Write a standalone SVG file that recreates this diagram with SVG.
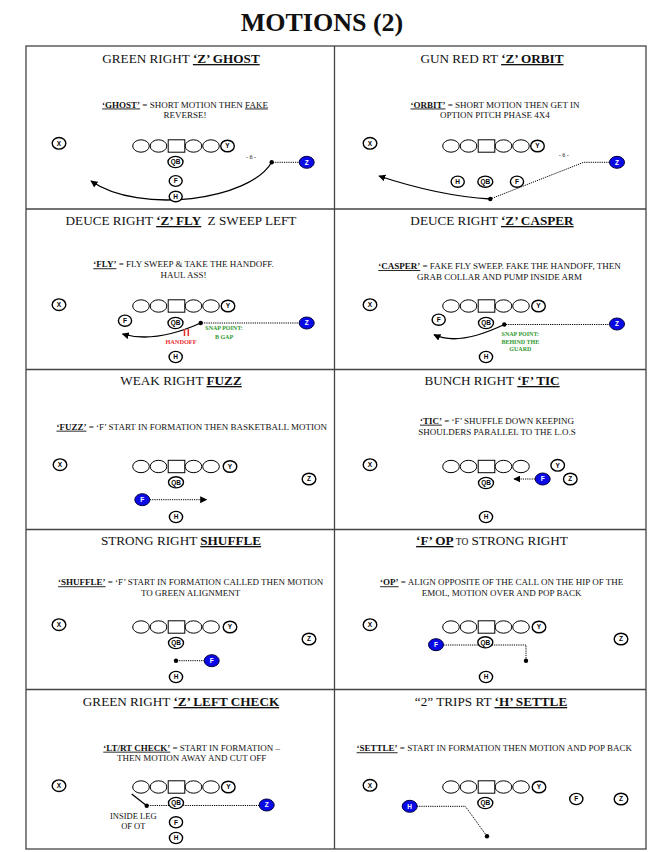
<svg xmlns="http://www.w3.org/2000/svg" width="653" height="852" viewBox="0 0 653 852">
<defs>
<style>
.mt{font-family:"Liberation Serif","Times New Roman",serif;font-weight:bold;font-size:26px;text-anchor:middle;fill:#111}
.tt{font-family:"Liberation Serif","Times New Roman",serif;font-size:13.2px;text-anchor:middle;fill:#111}
.ds{font-family:"Liberation Serif","Times New Roman",serif;font-size:9px;text-anchor:middle;fill:#111}
.bu{font-weight:bold;text-decoration:underline}
.u{text-decoration:underline}
.p{fill:#fff;stroke:#000;stroke-width:1.4}
.ol{fill:#fff;stroke:#000;stroke-width:1}
.bl{fill:#0a0ae6;stroke:#000040;stroke-width:1}
.pl{font-family:"Liberation Sans",Arial,sans-serif;font-weight:bold;font-size:6.5px;text-anchor:middle;fill:#000}
.wl{font-family:"Liberation Sans",Arial,sans-serif;font-weight:bold;font-size:6.5px;text-anchor:middle;fill:#fff}
.grid{fill:none;stroke:#444;stroke-width:1.3}
.dot{stroke:#000;stroke-width:1;fill:none;stroke-dasharray:1.2 1}
.sol{stroke:#000;stroke-width:1.3;fill:none}
.gr{font-family:"Liberation Serif","Times New Roman",serif;font-weight:bold;font-size:6px;fill:#2e9a2e;text-anchor:middle}
.rd{font-family:"Liberation Serif","Times New Roman",serif;font-weight:bold;font-size:6.3px;fill:#e53030;text-anchor:middle}
.sm{font-family:"Liberation Serif","Times New Roman",serif;font-size:6px;text-anchor:middle;fill:#111}
.lb{font-family:"Liberation Serif","Times New Roman",serif;font-size:8.5px;text-anchor:middle;fill:#111}
</style>
<marker id="ah" viewBox="0 0 10 10" refX="9" refY="5" markerWidth="7" markerHeight="7" markerUnits="userSpaceOnUse" orient="auto">
<path d="M0,0 L10,5 L0,10 z" fill="#000"/>
</marker>
<g id="line">
<ellipse class="ol" cx="-35.5" cy="0" rx="8.3" ry="6.2"/>
<ellipse class="ol" cx="-18" cy="0" rx="8.3" ry="6.2"/>
<rect class="ol" x="-8.3" y="-6.2" width="16.6" height="12.4"/>
<ellipse class="ol" cx="17" cy="0" rx="8.3" ry="6.2"/>
<ellipse class="ol" cx="34.5" cy="0" rx="8.3" ry="6.2"/>
</g>
</defs>
<rect width="653" height="852" fill="#fff"/>
<text class="mt" x="322" y="31">MOTIONS (2)</text>

<g id="grid">
<rect class="grid" x="26" y="46" width="620" height="803"/>
<line class="grid" x1="334.5" y1="46" x2="334.5" y2="849"/>
<line class="grid" x1="26" y1="209" x2="646" y2="209"/>
<line class="grid" x1="26" y1="369.5" x2="646" y2="369.5"/>
<line class="grid" x1="26" y1="529.5" x2="646" y2="529.5"/>
<line class="grid" x1="26" y1="689.5" x2="646" y2="689.5"/>
</g>

<g id="titles">
<text class="tt" x="181" y="63">GREEN RIGHT <tspan class="bu">‘Z’ GHOST</tspan></text>
<text class="tt" x="492" y="63">GUN RED RT <tspan class="bu">‘Z’ ORBIT</tspan></text>
<text class="tt" x="181" y="225">DEUCE RIGHT <tspan class="bu">‘Z’ FLY</tspan><tspan dx="3"> Z SWEEP LEFT</tspan></text>
<text class="tt" x="492" y="225">DEUCE RIGHT <tspan class="bu">‘Z’ CASPER</tspan></text>
<text class="tt" x="181" y="385">WEAK RIGHT <tspan class="bu">FUZZ</tspan></text>
<text class="tt" x="492" y="385">BUNCH RIGHT <tspan class="bu">‘F’ TIC</tspan></text>
<text class="tt" x="181" y="545">STRONG RIGHT <tspan class="bu">SHUFFLE</tspan></text>
<text class="tt" x="492" y="545"><tspan class="bu">‘F’ OP</tspan><tspan font-size="9.5"> TO</tspan> STRONG RIGHT</text>
<text class="tt" x="181" y="706">GREEN RIGHT <tspan class="bu">‘Z’ LEFT CHECK</tspan></text>
<text class="tt" x="491" y="706">“2” TRIPS RT <tspan class="bu">‘H’ SETTLE</tspan></text>
</g>

<g id="descriptions">
<text class="ds" x="185" y="107.5"><tspan class="bu">‘GHOST’</tspan> = SHORT MOTION THEN <tspan class="u">FAKE</tspan></text>
<text class="ds" x="185" y="117.5">REVERSE!</text>
<text class="ds" x="495" y="107.5"><tspan class="bu">‘ORBIT’</tspan> = SHORT MOTION THEN GET IN</text>
<text class="ds" x="495" y="117.5">OPTION PITCH PHASE 4X4</text>
<text class="ds" x="183.5" y="267.3"><tspan class="bu">‘FLY’</tspan> = FLY SWEEP &amp; TAKE THE HANDOFF.</text>
<text class="ds" x="183.5" y="278">HAUL ASS!</text>
<text class="ds" x="499.5" y="269"><tspan class="bu">‘CASPER’</tspan> = FAKE FLY SWEEP. FAKE THE HANDOFF, THEN</text>
<text class="ds" x="499.5" y="279.7">GRAB COLLAR AND PUMP INSIDE ARM</text>
<text class="ds" x="191.7" y="429.7"><tspan class="bu">‘FUZZ’</tspan> = ‘F’ START IN FORMATION THEN BASKETBALL MOTION</text>
<text class="ds" x="497" y="423.7"><tspan class="bu">‘TIC’</tspan> = ‘F’ SHUFFLE DOWN KEEPING</text>
<text class="ds" x="497" y="434.7">SHOULDERS PARALLEL TO THE L.O.S</text>
<text class="ds" x="190.7" y="585.3"><tspan class="bu">‘SHUFFLE’</tspan> = ‘F’ START IN FORMATION CALLED THEN MOTION</text>
<text class="ds" x="190.7" y="596.3">TO GREEN ALIGNMENT</text>
<text class="ds" x="501.7" y="585.3"><tspan class="bu">‘OP’</tspan> = ALIGN OPPOSITE OF THE CALL ON THE HIP OF THE</text>
<text class="ds" x="501.7" y="595.7">EMOL, MOTION OVER AND POP BACK</text>
<text class="ds" x="191.7" y="750.7"><tspan class="bu">‘LT/RT CHECK’</tspan> = START IN FORMATION –</text>
<text class="ds" x="191.7" y="761.3">THEN MOTION AWAY AND CUT OFF</text>
<text class="ds" x="494.3" y="751.3"><tspan class="bu">‘SETTLE’</tspan> = START IN FORMATION THEN MOTION AND POP BACK</text>
</g>

<g id="offensive-lines">
<use href="#line" x="176.5" y="146"/>
<use href="#line" x="486.5" y="146"/>
<use href="#line" x="176.5" y="306"/>
<use href="#line" x="486.5" y="306"/>
<use href="#line" x="176.5" y="466.5"/>
<use href="#line" x="486.5" y="466.5"/>
<use href="#line" x="176.5" y="627"/>
<use href="#line" x="486.5" y="627"/>
<use href="#line" x="176.5" y="787"/>
<use href="#line" x="486.5" y="787"/>
</g>

<g id="connectors">
<line class="dot" x1="273" y1="162.3" x2="299" y2="162.3"/>
<path class="sol" d="M271.7,162.3 C250,200 140,215 91,181" marker-end="url(#ah)"/>
<path class="dot" d="M609.5,162.3 L583.7,162.3 L490.3,199"/>
<path class="sol" d="M490.3,199 Q439.5,196 379,176" marker-end="url(#ah)"/>
<line class="dot" x1="202" y1="323" x2="299" y2="323"/>
<path class="sol" d="M200.7,323 Q155,343.5 122.5,334" marker-end="url(#ah)"/>
<line class="dot" x1="506" y1="324.5" x2="609.5" y2="324.5"/>
<path class="sol" d="M504.3,324.5 Q458.4,346.3 434,334.7" marker-end="url(#ah)"/>
<line class="dot" x1="150" y1="499.7" x2="206.5" y2="499.7" marker-end="url(#ah)"/>
<line class="dot" x1="535" y1="479" x2="514" y2="479" marker-end="url(#ah)"/>
<line class="dot" x1="177" y1="660.7" x2="204" y2="660.7"/>
<path class="dot" d="M443.5,645 L526,645 L526,660.7"/>
<line class="sol" x1="131.7" y1="794" x2="146.7" y2="805.7" stroke-width="1"/>
<line class="dot" x1="148" y1="805.5" x2="259" y2="805.5"/>
<path class="dot" d="M417,806.3 L465.3,806.3 L487,836.3"/>
</g>

<g id="marks">
<circle cx="271.7" cy="162.3" r="2.2"/>
<circle cx="490.3" cy="199" r="2.2"/>
<circle cx="200.7" cy="323" r="2.2"/>
<circle cx="504.3" cy="324.5" r="2.2"/>
<circle cx="176" cy="660.7" r="2.2"/>
<circle cx="526" cy="660.7" r="2.2"/>
<circle cx="146.7" cy="805.7" r="2.2"/>
<circle cx="487" cy="836.3" r="2.2"/>
<text class="sm" x="251" y="159">- 6 -</text>
<text class="sm" x="563.7" y="157">- 6 -</text>
<g id="handoff">
<line x1="184.5" y1="329" x2="184.5" y2="336" stroke="#e53030" stroke-width="1.6"/>
<line x1="188.3" y1="329" x2="188.3" y2="336" stroke="#e53030" stroke-width="1.6"/>
<text class="rd" x="181" y="343.5">HANDOFF</text>
</g>
<text class="gr" x="224" y="330">SNAP POINT:</text>
<text class="gr" x="224" y="338.5">B GAP</text>
<text class="gr" x="520.3" y="336">SNAP POINT:</text>
<text class="gr" x="520.3" y="343.5">BEHIND THE</text>
<text class="gr" x="520.3" y="351">GUARD</text>
<text class="lb" x="133.3" y="818.5">INSIDE LEG</text>
<text class="lb" x="133.3" y="829">OF OT</text>
</g>

<g id="c1-x"><ellipse class="p" cx="59" cy="143.3" rx="6.8" ry="5.8"/><text class="pl" x="59" y="145.6">X</text></g>
<g id="c1-y"><ellipse class="p" cx="227.5" cy="146" rx="6.8" ry="5.8"/><text class="pl" x="227.5" y="148.3">Y</text></g>
<g id="c1-qb"><ellipse class="p" cx="175.5" cy="162" rx="7.5" ry="5.6"/><text class="pl" x="175.5" y="164.2" font-size="5.5">QB</text></g>
<g id="c1-f"><ellipse class="p" cx="175.7" cy="181" rx="6.5" ry="5.4"/><text class="pl" x="175.7" y="183.3">F</text></g>
<g id="c1-h"><ellipse class="p" cx="175.7" cy="196.5" rx="6.5" ry="5.2"/><text class="pl" x="175.7" y="198.8">H</text></g>
<g id="c1-z"><ellipse class="bl" cx="306.7" cy="162.3" rx="7.5" ry="6"/><text class="wl" x="306.7" y="164.6">Z</text></g>

<g id="c2-x"><ellipse class="p" cx="370" cy="143.3" rx="6.8" ry="5.8"/><text class="pl" x="370" y="145.6">X</text></g>
<g id="c2-y"><ellipse class="p" cx="537.5" cy="146" rx="6.8" ry="5.8"/><text class="pl" x="537.5" y="148.3">Y</text></g>
<g id="c2-h"><ellipse class="p" cx="457.7" cy="181.7" rx="6.6" ry="5.6"/><text class="pl" x="457.7" y="184">H</text></g>
<g id="c2-qb"><ellipse class="p" cx="485.3" cy="181.7" rx="7.5" ry="5.6"/><text class="pl" x="485.3" y="183.9" font-size="5.5">QB</text></g>
<g id="c2-f"><ellipse class="p" cx="517" cy="181.7" rx="6.6" ry="5.6"/><text class="pl" x="517" y="184">F</text></g>
<g id="c2-z"><ellipse class="bl" cx="617" cy="162.3" rx="7.5" ry="6"/><text class="wl" x="617" y="164.6">Z</text></g>

<g id="c3-x"><ellipse class="p" cx="59" cy="304.7" rx="6.8" ry="5.8"/><text class="pl" x="59" y="307">X</text></g>
<g id="c3-y"><ellipse class="p" cx="228" cy="306" rx="6.8" ry="5.8"/><text class="pl" x="228" y="308.3">Y</text></g>
<g id="c3-f"><ellipse class="p" cx="125" cy="320.7" rx="6.6" ry="5.6"/><text class="pl" x="125" y="323">F</text></g>
<g id="c3-qb"><ellipse class="p" cx="175.5" cy="323" rx="7.5" ry="5.6"/><text class="pl" x="175.5" y="325.2" font-size="5.5">QB</text></g>
<g id="c3-h"><ellipse class="p" cx="175.7" cy="357" rx="6.6" ry="5.6"/><text class="pl" x="175.7" y="359.3">H</text></g>
<g id="c3-z"><ellipse class="bl" cx="306.7" cy="323" rx="7.5" ry="6"/><text class="wl" x="306.7" y="325.3">Z</text></g>

<g id="c4-x"><ellipse class="p" cx="370" cy="304.7" rx="6.8" ry="5.8"/><text class="pl" x="370" y="307">X</text></g>
<g id="c4-y"><ellipse class="p" cx="538.5" cy="306" rx="6.8" ry="5.8"/><text class="pl" x="538.5" y="308.3">Y</text></g>
<g id="c4-f"><ellipse class="p" cx="438.7" cy="319.7" rx="6.6" ry="5.6"/><text class="pl" x="438.7" y="322">F</text></g>
<g id="c4-qb"><ellipse class="p" cx="486" cy="323" rx="7.5" ry="5.6"/><text class="pl" x="486" y="325.2" font-size="5.5">QB</text></g>
<g id="c4-h"><ellipse class="p" cx="486" cy="357" rx="6.6" ry="5.6"/><text class="pl" x="486" y="359.3">H</text></g>
<g id="c4-z"><ellipse class="bl" cx="617" cy="324" rx="7.5" ry="6"/><text class="wl" x="617" y="326.3">Z</text></g>

<g id="c5-x"><ellipse class="p" cx="60" cy="464.7" rx="6.8" ry="5.8"/><text class="pl" x="60" y="467">X</text></g>
<g id="c5-y"><ellipse class="p" cx="230" cy="466.5" rx="6.8" ry="5.8"/><text class="pl" x="230" y="468.8">Y</text></g>
<g id="c5-qb"><ellipse class="p" cx="176" cy="482.3" rx="7.5" ry="5.6"/><text class="pl" x="176" y="484.5" font-size="5.5">QB</text></g>
<g id="c5-z"><ellipse class="p" cx="309" cy="479" rx="6.8" ry="5.8"/><text class="pl" x="309" y="481.3">Z</text></g>
<g id="c5-f"><ellipse class="bl" cx="142.3" cy="499.7" rx="7.5" ry="6"/><text class="wl" x="142.3" y="502">F</text></g>
<g id="c5-h"><ellipse class="p" cx="176" cy="517" rx="6.6" ry="5.6"/><text class="pl" x="176" y="519.3">H</text></g>

<g id="c6-x"><ellipse class="p" cx="370" cy="464.7" rx="6.8" ry="5.8"/><text class="pl" x="370" y="467">X</text></g>
<g id="c6-y"><ellipse class="p" cx="557.7" cy="465.3" rx="6.8" ry="5.8"/><text class="pl" x="557.7" y="467.6">Y</text></g>
<g id="c6-qb"><ellipse class="p" cx="486" cy="483" rx="7.5" ry="5.6"/><text class="pl" x="486" y="485.2" font-size="5.5">QB</text></g>
<g id="c6-f"><ellipse class="bl" cx="542.7" cy="479" rx="7.5" ry="6"/><text class="wl" x="542.7" y="481.3">F</text></g>
<g id="c6-z"><ellipse class="p" cx="570.3" cy="479" rx="6.8" ry="5.8"/><text class="pl" x="570.3" y="481.3">Z</text></g>
<g id="c6-h"><ellipse class="p" cx="486" cy="517" rx="6.6" ry="5.6"/><text class="pl" x="486" y="519.3">H</text></g>

<g id="c7-x"><ellipse class="p" cx="59" cy="624.7" rx="6.8" ry="5.8"/><text class="pl" x="59" y="627">X</text></g>
<g id="c7-y"><ellipse class="p" cx="230" cy="627" rx="6.8" ry="5.8"/><text class="pl" x="230" y="629.3">Y</text></g>
<g id="c7-qb"><ellipse class="p" cx="176" cy="643" rx="7.5" ry="5.6"/><text class="pl" x="176" y="645.2" font-size="5.5">QB</text></g>
<g id="c7-z"><ellipse class="p" cx="309" cy="639" rx="6.8" ry="5.8"/><text class="pl" x="309" y="641.3">Z</text></g>
<g id="c7-f"><ellipse class="bl" cx="211.7" cy="660.7" rx="7.5" ry="6"/><text class="wl" x="211.7" y="663">F</text></g>
<g id="c7-h"><ellipse class="p" cx="176" cy="677" rx="6.6" ry="5.6"/><text class="pl" x="176" y="679.3">H</text></g>

<g id="c8-x"><ellipse class="p" cx="370" cy="624.7" rx="6.8" ry="5.8"/><text class="pl" x="370" y="627">X</text></g>
<g id="c8-y"><ellipse class="p" cx="539" cy="627" rx="6.8" ry="5.8"/><text class="pl" x="539" y="629.3">Y</text></g>
<g id="c8-f"><ellipse class="bl" cx="436" cy="644.7" rx="7.5" ry="6"/><text class="wl" x="436" y="647">F</text></g>
<g id="c8-qb"><ellipse class="p" cx="485.3" cy="642.3" rx="7.5" ry="5.6"/><text class="pl" x="485.3" y="644.5" font-size="5.5">QB</text></g>
<g id="c8-z"><ellipse class="p" cx="621" cy="639" rx="6.8" ry="5.8"/><text class="pl" x="621" y="641.3">Z</text></g>
<g id="c8-h"><ellipse class="p" cx="486" cy="677" rx="6.6" ry="5.6"/><text class="pl" x="486" y="679.3">H</text></g>

<g id="c9-x"><ellipse class="p" cx="59" cy="785.7" rx="6.8" ry="5.8"/><text class="pl" x="59" y="788">X</text></g>
<g id="c9-y"><ellipse class="p" cx="228.3" cy="787" rx="6.8" ry="5.8"/><text class="pl" x="228.3" y="789.3">Y</text></g>
<g id="c9-qb"><ellipse class="p" cx="176" cy="803" rx="7.5" ry="5.6"/><text class="pl" x="176" y="805.2" font-size="5.5">QB</text></g>
<g id="c9-f"><ellipse class="p" cx="176" cy="822.3" rx="6.6" ry="5.6"/><text class="pl" x="176" y="824.6">F</text></g>
<g id="c9-h"><ellipse class="p" cx="176" cy="838" rx="6.6" ry="5.6"/><text class="pl" x="176" y="840.3">H</text></g>
<g id="c9-z"><ellipse class="bl" cx="266.7" cy="805" rx="7.5" ry="6"/><text class="wl" x="266.7" y="807.3">Z</text></g>

<g id="c10-x"><ellipse class="p" cx="370" cy="785.3" rx="6.8" ry="5.8"/><text class="pl" x="370" y="787.6">X</text></g>
<g id="c10-y"><ellipse class="p" cx="539" cy="787" rx="6.8" ry="5.8"/><text class="pl" x="539" y="789.3">Y</text></g>
<g id="c10-h"><ellipse class="bl" cx="409.7" cy="806.3" rx="7.5" ry="6"/><text class="wl" x="409.7" y="808.6">H</text></g>
<g id="c10-qb"><ellipse class="p" cx="485.3" cy="803" rx="7.5" ry="5.6"/><text class="pl" x="485.3" y="805.2" font-size="5.5">QB</text></g>
<g id="c10-f"><ellipse class="p" cx="576.3" cy="799" rx="6.6" ry="5.6"/><text class="pl" x="576.3" y="801.3">F</text></g>
<g id="c10-z"><ellipse class="p" cx="621" cy="799" rx="6.8" ry="5.8"/><text class="pl" x="621" y="801.3">Z</text></g>
</svg>
